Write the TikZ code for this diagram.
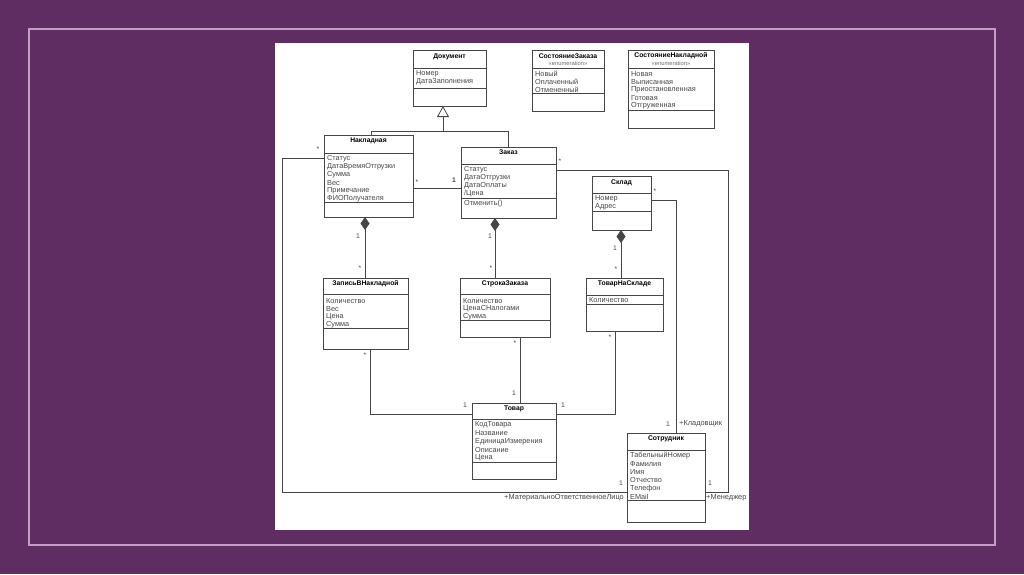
\documentclass[tikz,border=0pt]{standalone}
\usepackage{fontspec}
\setmainfont{Liberation Sans}
\usetikzlibrary{arrows.meta,calc}
\definecolor{bgpurple}{RGB}{96,45,98}
\definecolor{framepink}{RGB}{196,156,198}
\definecolor{linegray}{RGB}{70,70,70}
\definecolor{txtgray}{RGB}{70,70,70}
\newcommand{\hsepline}[2]{\draw[sepl] ($(#1.north west)+(0,#2)$) -- ($(#1.north east)+(0,#2)$);}
\newcommand{\clstitle}[3]{\node[ttl] (#1-t) at ($(#1.north)+(0,#2+1.5)$) {#3};}
\newcommand{\clsattrs}[4]{\foreach \t [count=\i from 0] in {#4} \node[attr] (#1-a\i) at ($(#1.north west)+(3,#2+1+#3*\i)$) {\t};}
\begin{document}
\begin{tikzpicture}[x=1pt,y=-1pt,
 cls/.style={draw=linegray, line width=0.9pt, fill=white, anchor=north west, inner sep=0pt, outer sep=0pt},
 ttl/.style={font=\fontsize{6.8}{7}\selectfont\bfseries, text=black, inner sep=0pt},
 attr/.style={font=\fontsize{7.3}{8}\selectfont, text=txtgray, anchor=west, inner sep=0pt},
 ster/.style={font=\fontsize{5.8}{6}\selectfont, text=txtgray!80, inner sep=0pt},
 sepl/.style={draw=linegray, line width=0.8pt},
 conn/.style={draw=linegray, line width=0.8pt},
 mult/.style={font=\fontsize{6.8}{7}\selectfont, text=txtgray, inner sep=0pt},
 role/.style={font=\fontsize{7.4}{8}\selectfont, text=txtgray, inner sep=0pt},
]
% background
\fill[bgpurple] (0,0) rectangle (1024,574);
\draw[framepink, line width=1.2pt] (29,29) rectangle (995,545);
\fill[white] (275,43) rectangle (749,530);

% classes
\node[cls, minimum width=73pt, minimum height=56pt] (doc) at (413,50) {};
\clstitle{doc}{5}{Документ}
\hsepline{doc}{18}\hsepline{doc}{38}
\clsattrs{doc}{23}{8}{Номер,ДатаЗаполнения}

\node[cls, minimum width=72pt, minimum height=61pt] (senum) at (532,50) {};
\clstitle{senum}{4.5}{СостояниеЗаказа}
\node[ster] (senum-s) at ($(senum.north)+(0,13.5)$) {«enumeration»};
\hsepline{senum}{18}\hsepline{senum}{43}
\clsattrs{senum}{23}{8}{Новый,Оплаченный,Отмененный}

\node[cls, minimum width=86pt, minimum height=78pt] (nenum) at (628,50) {};
\clstitle{nenum}{4.5}{СостояниеНакладной}
\node[ster] (nenum-s) at ($(nenum.north)+(0,13.5)$) {«enumeration»};
\hsepline{nenum}{18}\hsepline{nenum}{60}
\clsattrs{nenum}{23}{8}{Новая,Выписанная,Приостановленная,Готовая,Отгруженная}

\node[cls, minimum width=89pt, minimum height=82pt] (nak) at (324,135) {};
\clstitle{nak}{4.5}{Накладная}
\hsepline{nak}{18}\hsepline{nak}{67}
\clsattrs{nak}{23}{8}{Статус,ДатаВремяОтгрузки,Сумма,Вес,Примечание,ФИОПолучателя}

\node[cls, minimum width=95pt, minimum height=71pt] (zak) at (461,147) {};
\clstitle{zak}{4}{Заказ}
\hsepline{zak}{17}\hsepline{zak}{51}
\clsattrs{zak}{22}{7.8}{Статус,ДатаОтгрузки,ДатаОплаты,/Цена}
\node[attr] (zak-op) at ($(zak.north west)+(3,56.5)$) {Отменить()};

\node[cls, minimum width=59pt, minimum height=54pt] (sklad) at (592,176) {};
\clstitle{sklad}{5}{Склад}
\hsepline{sklad}{17}\hsepline{sklad}{35}
\clsattrs{sklad}{22}{8}{Номер,Адрес}

\node[cls, minimum width=85pt, minimum height=71pt] (zap) at (323,278) {};
\clstitle{zap}{4.5}{ЗаписьВНакладной}
\hsepline{zap}{16}\hsepline{zap}{50}
\clsattrs{zap}{22}{8}{Количество,Вес,Цена,Сумма}

\node[cls, minimum width=90pt, minimum height=59pt] (stroka) at (460,278) {};
\clstitle{stroka}{4.5}{СтрокаЗаказа}
\hsepline{stroka}{16}\hsepline{stroka}{42}
\clsattrs{stroka}{22}{8}{Количество,ЦенаСНалогами,Сумма}

\node[cls, minimum width=77pt, minimum height=53pt] (tns) at (586,278) {};
\clstitle{tns}{4.5}{ТоварНаСкладе}
\hsepline{tns}{17}\hsepline{tns}{26}
\clsattrs{tns}{21.5}{8}{Количество}

\node[cls, minimum width=84pt, minimum height=76pt] (tovar) at (472,403) {};
\clstitle{tovar}{4.5}{Товар}
\hsepline{tovar}{16}\hsepline{tovar}{59}
\clsattrs{tovar}{21}{8.2}{КодТовара,Название,ЕдиницаИзмерения,Описание,Цена}

\node[cls, minimum width=78pt, minimum height=89pt] (sotr) at (627,433) {};
\clstitle{sotr}{4}{Сотрудник}
\hsepline{sotr}{17}\hsepline{sotr}{67}
\clsattrs{sotr}{21.5}{8.2}{ТабельныйНомер,Фамилия,Имя,Отчество,Телефон,EMail}

% generalization
\coordinate (gj) at (443,131);
\coordinate (gl) at (371,131);
\coordinate (gr) at (508,131);
\draw[conn] (nak.north -| gl) -- (gl) -- (gr) -- (zak.north -| gr);
\draw[conn, -{Triangle[open, length=11pt, width=12pt]}] (gj) -- (doc.south -| gj);

% Накладная -- Заказ
\coordinate (a1) at (0,188);
\draw[conn] (nak.east |- a1) -- (zak.west |- a1);
\node[mult] (m-a1) at (417,182) {*};
\node[mult] (m-a2) at (454,180) {\bfseries 1};

% compositions
\coordinate (c1) at (365,0);
\draw[conn, -{Diamond[length=13pt,width=9pt]}] (zap.north -| c1) -- (nak.south -| c1);
\node[mult] (m-c1a) at (358,236) {1};
\node[mult] (m-c1b) at (360,268) {*};
\coordinate (c2) at (495,0);
\draw[conn, -{Diamond[length=13pt,width=9pt]}] (stroka.north -| c2) -- (zak.south -| c2);
\node[mult] (m-c2a) at (490,236) {1};
\node[mult] (m-c2b) at (491,268) {*};
\coordinate (c3) at (621,0);
\draw[conn, -{Diamond[length=13pt,width=9pt]}] (tns.north -| c3) -- (sklad.south -| c3);
\node[mult] (m-c3a) at (615,248) {1};
\node[mult] (m-c3b) at (616,269) {*};

% Товар associations
\coordinate (t1) at (370,414);
\draw[conn] (zap.south -| t1) -- (t1) -- (tovar.west |- t1);
\node[mult] (m-t1a) at (365,355) {*};
\node[mult] (m-t1b) at (465,405) {1};
\coordinate (t2) at (520,0);
\draw[conn] (stroka.south -| t2) -- (tovar.north -| t2);
\node[mult] (m-t2a) at (515,343) {*};
\node[mult] (m-t2b) at (514,393) {1};
\coordinate (t3) at (615,414);
\draw[conn] (tns.south -| t3) -- (t3) -- (tovar.east |- t3);
\node[mult] (m-t3a) at (610,337) {*};
\node[mult] (m-t3b) at (563,405) {1};

% Склад -- Сотрудник
\coordinate (k1) at (676,200);
\draw[conn] (sklad.east |- k1) -- (k1) -- (sotr.north -| k1);
\node[mult] (m-k1a) at (655,191) {*};
\node[mult] (m-k1b) at (668,424) {1};
\node[role, anchor=west] (r-k) at (679,424) {+Кладовщик};

% Заказ -- Сотрудник
\coordinate (e1) at (728,170);
\coordinate (e2) at (728,492);
\draw[conn] (zak.east |- e1) -- (e1) -- (e2) -- (sotr.east |- e2);
\node[mult] (m-e1a) at (560,161) {*};
\node[mult] (m-e1b) at (710,483) {1};
\node[role, anchor=west] (r-e) at (706,498) {+Менеджер};

% Накладная -- Сотрудник
\coordinate (l1) at (282,158);
\coordinate (l2) at (282,492);
\draw[conn] (nak.west |- l1) -- (l1) -- (l2) -- (sotr.west |- l2);
\node[mult] (m-l1a) at (318,149) {*};
\node[mult] (m-l1b) at (621,483) {1};
\node[role, anchor=east] (r-l) at (624,498) {+МатериальноОтветственноеЛицо};
\end{tikzpicture}
\end{document}
